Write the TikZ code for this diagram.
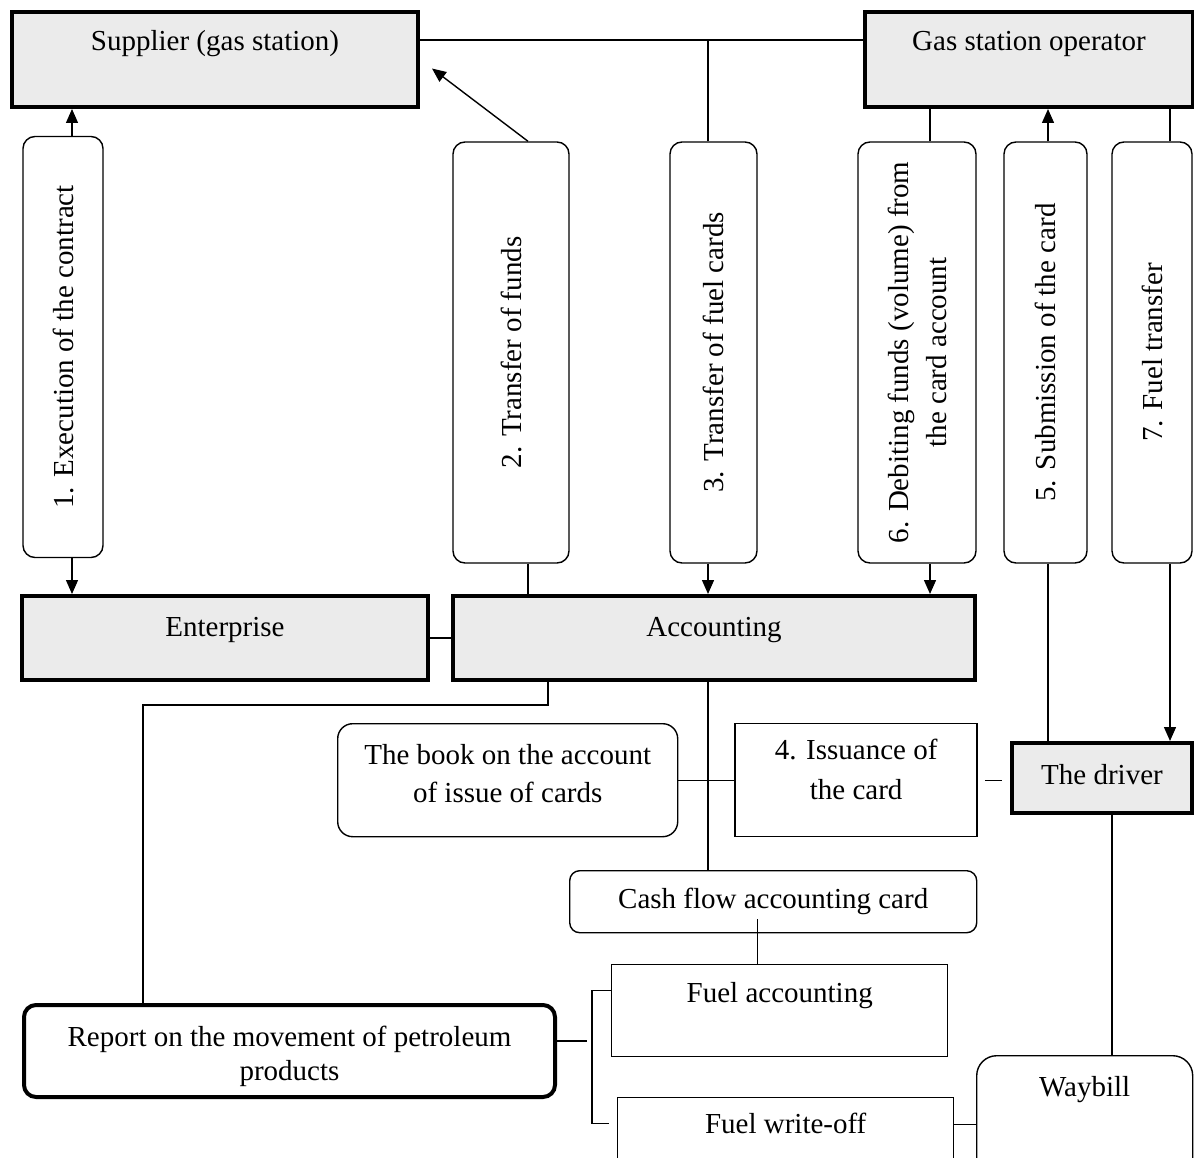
\documentclass[tikz,border=0pt]{standalone}
\usepackage{fontspec}
\setmainfont{Liberation Serif}
\usetikzlibrary{arrows.meta, positioning}

\definecolor{boxgray}{RGB}{235,235,235}

\begin{document}
\begin{tikzpicture}[x=1pt, y=-1pt,
node distance = 25pt and 25pt,
every node/.style = {inner sep=0pt, align=center,
                     font=\fontsize{29}{38}\selectfont},
party/.style = {draw, line width=4pt, fill=boxgray},
doc/.style   = {draw, line width=1.4pt},
card/.style  = {doc, rounded corners=12pt},
flow/.style  = {card, rotate=90, minimum width=421pt},
link/.style  = {line width=1.4pt},
arr/.style   = {line width=1.4pt, -{Triangle[length=14pt,width=12pt]}},
                    ]
%---
\clip (0,0) rectangle (1194,1158);

\node (supplier) [party, anchor=north west, minimum width=406pt,
                  text height=39pt, text depth=56pt] at (10,10) {Supplier (gas station)};
\node (operator) [party, minimum width=328pt, text height=39pt, text depth=56pt,
                  right=443pt of supplier] {Gas station operator};

\node (contract) [flow, minimum height=80pt]  at (63,347)     {1. Execution of the contract};
\node (funds)    [flow, minimum height=116pt] at (511,352.5)  {2. Transfer of funds};
\node (cards)    [flow, minimum height=87pt]  at (713.5,352.5) {3. Transfer of fuel cards};
\node (debit)    [flow, minimum height=118pt] at (917,352.5)  {6. Debiting funds (volume) from\\ the card account};
\node (submit)   [flow, minimum height=83pt]  at (1045.5,352.5) {5. Submission of the card};
\node (fuel)     [flow, minimum height=80pt]  at (1152,352.5) {7. Fuel transfer};

\node (enterprise) [party, anchor=north west, minimum width=406pt,
                    text height=40pt, text depth=44pt] at (20,594) {Enterprise};
\node (acc) [party, minimum width=522pt, text height=40pt, text depth=44pt,
             right=21pt of enterprise] {Accounting};

\node (book) [card, rounded corners=15pt, anchor=north west, minimum width=340pt,
              text height=79pt, text depth=34pt] at (337,723)
             {The book on the account\\ of issue of cards};
\node (iss)  [doc, minimum width=242pt, text height=76pt, text depth=37pt,
              right=56pt of book] {4. Issuance of\\[2pt] the card};
\node (driver) [party, anchor=north west, minimum width=180pt,
                text height=41pt, text depth=29pt] at (1010,741) {The driver};

\node (cash) [card, rounded corners=10pt, anchor=north west, minimum width=407pt,
              text height=38pt, text depth=24pt] at (569,870) {Cash flow accounting card};
\node (fuelacc) [doc, anchor=north west, minimum width=336pt,
                 text height=38pt, text depth=54pt] at (611,964) {Fuel accounting};
\node (writeoff) [doc, anchor=north west, minimum width=336pt,
                  text height=36pt, text depth=40pt] at (617,1097) {Fuel write-off};
\node (waybill) [card, rounded corners=20pt, anchor=north west, minimum width=216pt,
                 text height=41pt, text depth=120pt] at (976,1055) {Waybill};
\node (report) [party, fill=none, rounded corners=12pt, anchor=north west,
                minimum width=531pt, text height=75pt, text depth=17pt] at (22,1003)
               {Report on the movement of petroleum\\[-4pt] products};

\coordinate (top) at ([yshift=19.5pt]supplier.east);

%--- arrows
\path[arr]
  ([xshift=9pt]contract.east) edge ([xshift=9pt]contract.east |- supplier.south)
  ([xshift=9pt]contract.west) edge ([xshift=9pt]contract.west |- enterprise.north)
  ([xshift=17pt]funds.east)   edge ([xshift=12pt,yshift=-9pt]supplier.east)
  ([xshift=-5.5pt]cards.west) edge ([xshift=-5.5pt]cards.west |- acc.north)
  ([xshift=13pt]debit.west)   edge ([xshift=13pt]debit.west |- acc.north)
  ([xshift=2.5pt]submit.east) edge ([xshift=2.5pt]submit.east |- operator.south)
  ([xshift=18pt]fuel.west)    edge ([xshift=18pt]fuel.west |- driver.north);

%--- plain lines
\path[link]
  (top) edge (top -| operator.west)
  ([xshift=-5.5pt]cards.east) edge ([xshift=-5.5pt]cards.east |- top)
  ([xshift=17pt]funds.west)   edge ([xshift=17pt]funds.west |- acc.north)
  ([xshift=13pt]debit.east)   edge ([xshift=13pt]debit.east |- operator.south)
  ([xshift=18pt]fuel.east)    edge ([xshift=18pt]fuel.east |- operator.south)
  ([xshift=2.5pt]submit.west) edge ([xshift=2.5pt]submit.west |- driver.north)
  (enterprise.east) edge (acc.west)
  ([xshift=-6pt]acc.south) edge ([xshift=-6pt]acc.south |- cash.north)
  (book.east) edge (iss.west)
  ([xshift=10pt]driver.south) edge ([xshift=10pt]driver.south |- waybill.north)
  ([xshift=-15.5pt,yshift=14pt]cash.south) edge ([xshift=-15.5pt]cash.south |- fuelacc.north)
  ([yshift=11pt]writeoff.east) edge ([yshift=11pt]writeoff.east -| waybill.west);

\draw[link] ([xshift=-166pt]acc.south) -- ++(0,23) -| ([xshift=-146.5pt]report.north);
\draw[link] ([xshift=7pt]iss.east) -- ++(17,0);
\draw[link] ([yshift=10pt]report.east) -- ++(30,0);
\draw[link] ([yshift=20pt]fuelacc.west) -- ++(-19,0) -- ++(0,133) -- ++(17,0);
\end{tikzpicture}
\end{document}
